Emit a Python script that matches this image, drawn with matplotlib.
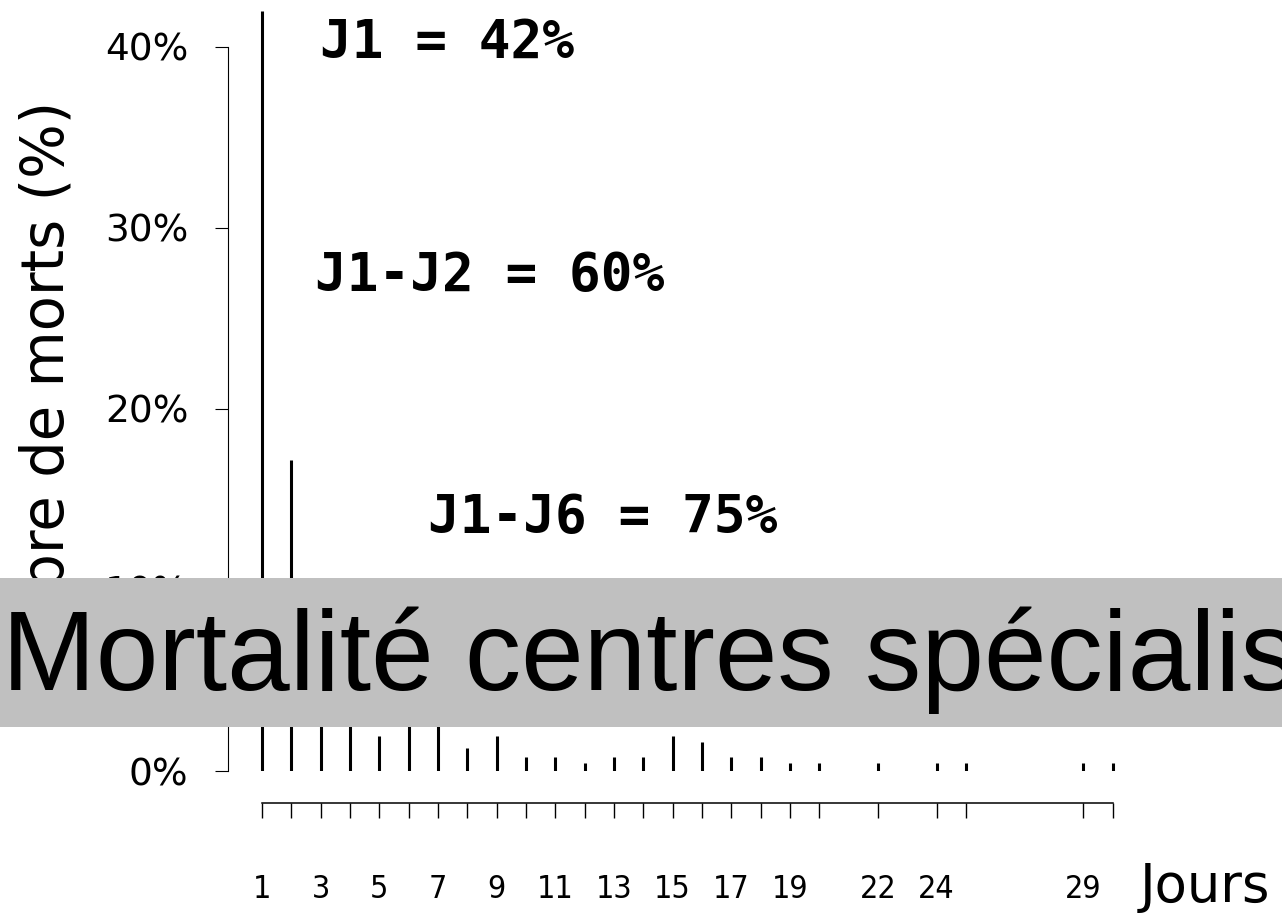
import matplotlib
matplotlib.use("Agg")
import matplotlib.pyplot as plt
from matplotlib.patches import Rectangle

# daily deaths, % of total
days = [1, 2, 3, 4, 5, 6, 7, 8, 9, 10, 11, 12, 13, 14, 15, 16, 17, 18, 19, 20,
        22, 24, 25, 29, 30]
deaths_pct = [42.0, 17.2, 5.3, 4.6, 1.95, 4.0, 3.4, 1.25, 1.95, 0.76, 0.76,
              0.42, 0.76, 0.76, 1.95, 1.58, 0.76, 0.76, 0.42, 0.42,
              0.42, 0.42, 0.42, 0.42, 0.42]
y_ticks = [0, 10, 20, 30, 40]
y_labels = ["0%", "10%", "20%", "30%", "40%"]
x_shown = [1, 3, 5, 7, 9, 11, 13, 15, 17, 19, 22, 24, 29]
notes = ["J1 = 42%", "J1-J2 = 60%", "J1-J6 = 75%"]
title = "Mortalité centres spécialisés"

W, H = 1282, 914


def fx(px):
    return px / W


def fy(py):
    return 1 - py / H


fig = plt.figure(figsize=(W / 100, H / 100), dpi=100)
ax = fig.add_axes([fx(228), fy(771), fx(1130) - fx(228), (771 - 5) / H])

ax.vlines(days, 0, deaths_pct, color="black", linewidth=2.2)
ax.set_xlim(-0.159, 30.59)
ax.set_ylim(0, 42.32)

for s in ["top", "right"]:
    ax.spines[s].set_visible(False)
ax.spines["left"].set_bounds(0, 40)
ax.spines["left"].set_linewidth(0.8)
ax.spines["bottom"].set_bounds(1, 30)
ax.spines["bottom"].set_linewidth(1.1)
ax.spines["bottom"].set_position(("outward", 23))

ax.set_yticks(y_ticks)
ax.set_yticklabels(y_labels)
ax.tick_params(axis="y", length=9.4, width=0.8, pad=19, labelsize=27)

ax.set_xticks(days)
ax.set_xticklabels([str(d) if d in x_shown else "" for d in days])
ax.tick_params(axis="x", length=10.8, width=1.0, pad=40, labelsize=23)
for lab in ax.get_xticklabels():
    lab.set_fontstretch("condensed")

# y label sits partly under the grey banner, as in the original
fig.text(fx(76), fy(412), "Nombre de morts (%)", rotation=90, ha="right",
         va="center", fontsize=41.5, zorder=1)
fig.text(fx(1140), fy(913), "Jours", ha="left", va="bottom", fontsize=38)

# annotations
note_pos = [(320, 43), (315, 276), (428, 518)]
for t, (px, py) in zip(notes, note_pos):
    fig.text(fx(px), fy(py), t, ha="left", va="center", fontsize=38,
             fontweight="bold", family="DejaVu Sans Mono")

# grey banner across the figure
fig.patches.append(Rectangle((0, fy(727)), 1, (727 - 578) / H,
                             transform=fig.transFigure, facecolor="#c0c0c0",
                             edgecolor="none", zorder=5))
fig.text(fx(2), fy(690), title, ha="left", va="baseline", fontsize=81,
         family=["Liberation Sans", "DejaVu Sans"], zorder=6)

fig.savefig("out.png", dpi=100)
